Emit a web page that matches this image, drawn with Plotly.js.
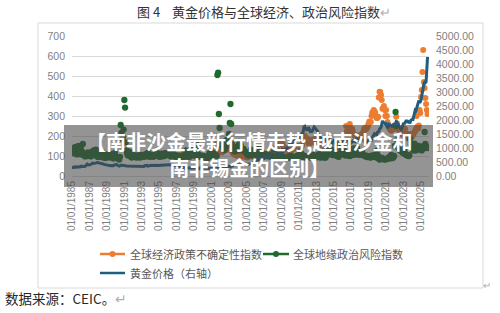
<!DOCTYPE html>
<html><head><meta charset="utf-8">
<script src="https://cdn.plot.ly/plotly-3.0.1.min.js"></script>
<style>html,body{margin:0;padding:0;background:#fff}#chart{width:500px;height:313px}</style>
</head><body><div id="chart"></div>
<script>
// ---- DATA (monthly) ----
const gprStart = [1985, 1];   // 全球地缘政治风险指数 (left axis)
const gpr = [
128,118,140,122,112,146,120,108,112,150,118,110,
140,108,122,160,112,102,98,104,112,100,118,104,
112,106,98,104,122,112,128,118,116,132,100,96,
102,96,106,112,100,94,118,100,92,96,90,104,
108,96,102,92,96,110,98,104,92,88,96,116,
98,92,96,90,86,82,96,255,215,185,195,232,
380,342,168,128,112,102,106,122,102,96,92,96,
108,102,98,94,98,92,96,104,94,98,92,102,
106,100,98,96,102,106,110,98,104,118,100,96,
102,98,106,100,96,108,112,104,122,110,106,98,
100,96,104,112,106,98,102,108,114,102,106,110,
114,108,106,102,98,104,112,106,110,100,96,102,
98,102,96,94,100,96,92,98,94,102,96,106,
114,128,106,98,102,100,96,132,110,104,106,136,
106,102,150,160,128,110,104,98,102,96,100,102,
98,94,96,92,94,98,96,90,94,114,106,100,
102,108,106,114,106,102,104,100,505,517,310,240,
170,152,160,150,148,138,130,142,175,180,160,175,
210,265,360,260,160,140,130,128,122,126,132,134,
150,128,160,170,155,138,130,128,136,124,122,118,
114,108,106,102,110,106,132,110,104,106,102,100,
102,110,112,108,106,104,144,128,114,122,106,102,
104,110,108,102,106,100,104,98,102,100,96,98,
98,94,100,96,92,94,96,106,94,90,108,100,
106,94,92,96,94,92,90,88,92,90,94,98,
100,96,94,92,98,94,90,92,94,92,102,100,
102,114,122,106,110,96,94,92,100,94,98,96,
94,100,98,96,92,94,98,96,106,94,98,92,
94,98,96,108,96,94,92,114,122,96,94,92,
94,92,128,116,106,110,122,130,132,112,106,104,
122,106,110,104,102,100,98,96,106,114,150,132,
114,110,128,106,102,108,114,104,102,106,100,102,
104,106,108,138,110,106,112,136,140,114,108,106,
106,110,112,122,106,104,102,100,98,102,96,94,
96,98,94,92,102,100,98,96,106,102,94,92,
128,100,86,82,84,86,90,88,86,84,82,84,
86,84,88,90,94,92,88,106,98,90,94,100,
150,320,250,180,150,140,136,128,132,138,120,116,
114,128,112,108,104,106,102,100,104,186,160,138,
142,134,128,162,130,128,132,134,146,150,136,132,
134,128,142,136,150,220,160,148,144,140
];

const epuStart = [1997, 1];   // 全球经济政策不确定性指数 (left axis)
const epu = [
100,96,104,98,94,92,98,104,100,112,118,110,
106,100,96,98,94,100,102,124,132,128,112,106,
104,98,100,102,96,94,98,100,102,96,92,98,
96,100,94,92,96,90,94,92,96,104,112,114,
118,122,128,124,116,120,124,122,165,150,140,130,
126,120,118,124,122,130,138,134,146,140,132,136,
150,156,168,140,126,118,112,108,112,106,102,104,
104,100,106,102,104,100,98,102,100,104,98,96,
96,92,94,98,104,108,112,104,100,98,96,94,
94,92,90,94,96,100,104,98,94,92,96,98,
96,98,104,102,100,104,110,120,122,116,124,128,
132,130,138,126,124,128,134,130,165,178,172,168,
160,162,158,146,140,138,132,128,126,122,124,126,
130,134,128,132,148,152,146,142,138,140,146,150,
148,142,150,146,150,160,176,196,200,192,190,186,
182,168,160,164,176,180,176,170,168,176,184,190,
178,166,164,156,150,152,148,150,156,160,150,146,
140,138,142,136,132,130,134,136,132,138,136,140,
142,146,140,138,134,138,150,160,162,150,146,148,
170,176,168,160,172,250,222,196,204,212,260,240,
230,236,226,212,208,204,198,196,194,200,196,204,
196,194,200,210,214,222,238,236,232,244,240,250,
262,272,268,270,300,318,312,330,324,316,300,290,
290,296,392,421,420,405,380,336,340,350,330,300,
330,300,270,256,248,236,230,226,238,244,248,252,
236,250,296,262,244,236,230,222,220,232,218,206,
214,222,236,204,212,196,190,186,194,210,206,196,
200,206,212,220,224,236,300,246,238,252,330,315,
395,430,520,630,470,440,390,360,330,310
];

const goldStart = [1985, 1];  // 黄金价格（右轴）
const gold = [
303,299,304,325,316,317,317,330,324,326,325,322,
345,339,346,340,342,343,348,376,418,423,398,391,
408,401,409,438,460,450,450,460,460,465,467,486,
477,442,444,452,451,452,437,431,413,406,420,419,
404,388,390,384,371,367,375,365,362,367,394,409,
410,417,393,374,369,352,362,395,389,380,381,378,
384,364,363,358,357,367,368,356,349,359,360,361,
354,354,345,338,337,341,353,343,345,344,335,334,
329,330,330,342,367,372,392,379,355,364,374,383,
387,382,384,377,381,386,385,380,391,389,384,379,
379,377,382,391,385,387,386,383,383,383,386,387,
400,405,396,393,392,385,383,387,383,381,378,369,
355,346,352,344,344,341,324,324,323,325,306,289,
289,297,296,308,299,292,293,284,289,296,294,291,
287,287,286,282,277,262,256,257,265,311,293,283,
284,300,286,280,275,286,282,275,273,270,266,272,
266,262,263,261,272,270,268,273,283,283,276,276,
282,296,294,302,314,322,314,310,319,317,319,333,
357,359,340,328,355,356,351,360,379,379,389,407,
414,405,406,404,384,392,398,400,405,420,439,442,
424,423,434,429,422,431,424,438,456,470,476,510,
550,555,557,610,676,596,633,632,598,586,627,629,
631,665,655,680,667,655,666,666,713,754,806,803,
889,923,968,909,888,890,939,839,829,806,760,816,
858,943,924,890,929,946,934,949,996,1043,1127,1134,
1118,1095,1113,1148,1205,1233,1193,1215,1271,1343,1370,1391,
1360,1374,1424,1474,1512,1529,1573,1756,1772,1665,1739,1652,
1656,1742,1673,1650,1585,1596,1594,1630,1745,1747,1721,1685,
1671,1627,1593,1487,1414,1343,1286,1347,1349,1316,1275,1225,
1244,1300,1336,1299,1288,1279,1311,1296,1239,1222,1176,1201,
1251,1227,1179,1199,1199,1181,1131,1117,1125,1159,1086,1068,
1097,1200,1246,1242,1260,1276,1337,1341,1326,1267,1238,1152,
1192,1234,1231,1266,1246,1260,1236,1283,1315,1280,1283,1265,
1331,1331,1325,1335,1303,1282,1238,1201,1198,1215,1221,1250,
1291,1320,1300,1286,1284,1359,1413,1500,1510,1495,1471,1480,
1560,1597,1591,1683,1716,1732,1847,1968,1921,1900,1866,1858,
1867,1808,1718,1760,1850,1834,1807,1785,1776,1777,1821,1790,
1817,1856,1948,1937,1849,1837,1733,1765,1681,1665,1726,1798,
1898,1854,1912,1999,1992,1943,1950,1918,1916,1916,1986,2026,
2033,2025,2160,2331,2350,2326,2398,2470,2570,2690,2650,2648,
2710,2895,2985,3195,3290,3350,3340,3365,3700,4250
];

const tickDates = ['1985-01-01','1987-01-01','1989-01-01','1991-01-01','1993-01-01','1995-01-01','1997-01-01','1999-01-01','2001-01-01','2003-01-01','2005-01-01','2007-01-01','2009-01-01','2011-01-01','2013-01-01','2015-01-01','2017-01-01','2019-01-01','2021-01-01','2023-01-01','2025-01-01'];
const tickLabels = ['01/01/1985','01/01/1987','01/01/1989','01/01/1991','01/01/1993','01/01/1995','01/01/1997','01/01/1999','01/01/2001','01/01/2003','01/01/2005','01/01/2007','01/01/2009','01/01/2011','01/01/2013','01/01/2015','01/01/2017','01/01/2019','01/01/2021','01/01/2023','01/01/2025'];

const seriesNames = ['全球经济政策不确定性指数','全球地缘政治风险指数','黄金价格（右轴）'];

// ---- helpers ----
function monthDates(start, n){
  const out=[];
  for(let i=0;i<n;i++){
    const k=start[1]-1+i;
    const y=start[0]+Math.floor(k/12), m=(k%12)+1;
    out.push(y+'-'+String(m).padStart(2,'0')+'-01');
  }
  return out;
}
// pixel -> paper coordinates (plot area: x 72..429, y 36..176)
const PL=72, PR=429, PT=36, PB=176;
const P = x => (x-PL)/(PR-PL);
const Q = y => (PB-y)/(PB-PT);

const ORANGE='#ED7D31', GREEN='#1E6B2D', TEAL='#1F5E7E';
const CJK='"Noto Sans CJK SC", "Noto Sans", sans-serif';
const LAT='"Liberation Sans", Arial, sans-serif';

const traces = [
  {x: monthDates(epuStart, epu.length), y: epu, type:'scatter', mode:'markers', name: seriesNames[0],
   marker:{color:ORANGE, size:6}, yaxis:'y'},
  {x: monthDates(gprStart, gpr.length), y: gpr, type:'scatter', mode:'markers', name: seriesNames[1],
   marker:{color:GREEN, size:6.3}, yaxis:'y'},
  {x: monthDates(goldStart, gold.length), y: gold, type:'scatter', mode:'lines', name: seriesNames[2],
   line:{color:TEAL, width:3}, yaxis:'y2'}
];

const shapes = [
  {type:'rect', xref:'paper', yref:'paper', x0:P(38), x1:P(483), y0:Q(288), y1:Q(23),
   line:{color:'#d9d9d9', width:1}, fillcolor:'rgba(0,0,0,0)', layer:'below'},
  // legend
  {type:'line', xref:'paper', yref:'paper', x0:P(100), x1:P(125), y0:Q(254), y1:Q(254), line:{color:ORANGE, width:2.5}},
  {type:'circle', xref:'paper', yref:'paper', x0:P(109.5), x1:P(115.5), y0:Q(257), y1:Q(251), fillcolor:ORANGE, line:{width:0}},
  {type:'line', xref:'paper', yref:'paper', x0:P(263), x1:P(289), y0:Q(254), y1:Q(254), line:{color:GREEN, width:2.5}},
  {type:'circle', xref:'paper', yref:'paper', x0:P(273), x1:P(279), y0:Q(257), y1:Q(251), fillcolor:GREEN, line:{width:0}},
  {type:'line', xref:'paper', yref:'paper', x0:P(100), x1:P(125), y0:Q(273), y1:Q(273), line:{color:TEAL, width:2.5}},
  // banner box
  {type:'rect', xref:'paper', yref:'paper', x0:P(64), x1:P(433), y0:Q(187), y1:Q(125),
   fillcolor:'rgba(70,70,70,0.58)', line:{width:0}, layer:'above'}
];

const annotations = [
  {xref:'paper', yref:'paper', x:P(128), y:Q(254), xanchor:'left', yanchor:'middle', showarrow:false,
   text:seriesNames[0], font:{family:CJK, size:11, color:'#595959'}},
  {xref:'paper', yref:'paper', x:P(291), y:Q(254), xanchor:'left', yanchor:'middle', showarrow:false,
   text:seriesNames[1], font:{family:CJK, size:11, color:'#595959'}},
  {xref:'paper', yref:'paper', x:P(128), y:Q(273), xanchor:'left', yanchor:'middle', showarrow:false,
   text:seriesNames[2], font:{family:CJK, size:11, color:'#595959'}},
  {xref:'paper', yref:'paper', x:P(3), y:Q(298), xanchor:'left', yanchor:'middle', showarrow:false,
   text:'数据来源：CEIC。<span style="color:#b0b0b0">↵</span>', font:{family:CJK, size:13.5, color:'#262626'}},
  {xref:'paper', yref:'paper', x:P(481), y:Q(284), xanchor:'left', yanchor:'middle', showarrow:false,
   text:'↵', font:{family:CJK, size:10, color:'#b0b0b0'}},
  {xref:'paper', yref:'paper', x:P(249), y:Q(154), xanchor:'center', yanchor:'middle', showarrow:false,
   text:'<b>【南非沙金最新行情走势,越南沙金和</b><br><b>南非锡金的区别】</b>',
   font:{family:CJK, size:20, color:'#ffffff'}}
];

const layout = {
  width:500, height:313,
  margin:{l:PL, r:500-PR, t:PT, b:313-PB, pad:0},
  paper_bgcolor:'#ffffff', plot_bgcolor:'#ffffff',
  showlegend:false,
  title:{text:'图 4    黄金价格与全球经济、政治风险指数<span style="color:#b0b0b0">↵</span>',
         x:0.528, xref:'container', xanchor:'center', y:1-12/313, yref:'container', yanchor:'middle',
         font:{family:CJK, size:13, color:'#333333'}},
  xaxis:{type:'date', range:['1985-01-01','2025-12-01'], tickvals:tickDates, ticktext:tickLabels,
         tickangle:-90, tickfont:{family:LAT, size:10, color:'#7f7f7f'}, showgrid:false,
         showline:true, linecolor:'#d9d9d9', linewidth:1, ticks:'', zeroline:false, fixedrange:true},
  yaxis:{range:[0,700], dtick:100, tick0:0, gridcolor:'#d9d9d9', gridwidth:1, zeroline:false,
         showline:false, ticks:'', tickfont:{family:LAT, size:10.5, color:'#7f7f7f'}, ticklabelstandoff:6},
  yaxis2:{range:[0,5000], dtick:500, tick0:0, overlaying:'y', side:'right', showgrid:false, zeroline:false,
          showline:false, ticks:'', tickformat:'.2f', tickfont:{family:LAT, size:10.5, color:'#7f7f7f'}, ticklabelstandoff:6},
  shapes:shapes, annotations:annotations
};

Plotly.newPlot('chart', traces, layout, {staticPlot:true, displayModeBar:false});
</script>
</body></html>
